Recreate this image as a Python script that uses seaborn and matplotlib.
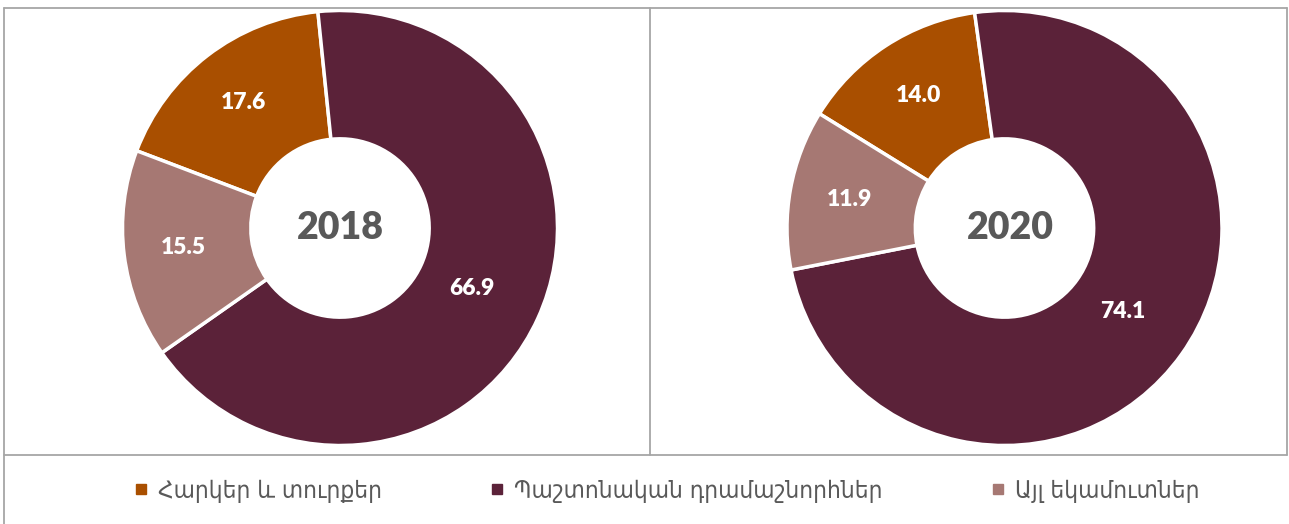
import numpy as np
import matplotlib
matplotlib.use("Agg")
import matplotlib.pyplot as plt
from matplotlib.lines import Line2D
import seaborn as sns

# ---- data ----
categories = ["Հարկեր և տուրքեր", "Պաշտոնական դրամաշնորհներ", "Այլ եկամուտներ"]
years = ["2018", "2020"]
values_2018 = [17.6, 66.9, 15.5]
values_2020 = [14.0, 74.1, 11.9]
label_text_2018 = ["17.6", "66.9", "15.5"]
label_text_2020 = ["14.0", "74.1", "11.9"]

# ---- style ----
sns.set_theme(style="white")
plt.rcParams["font.family"] = ["Lato", "DejaVu Sans"]
colors = ["#A94F00", "#5B2239", "#A67873"]
start_angles = [159.2, 148.3]
label_radius = [0.725, 0.665, 0.725]
year_dx = [0.0, 0.025]
GRID = "#A6A6A6"
TEXT = "#595959"

W, H = 1289, 524
fig = plt.figure(figsize=(W / 100, H / 100), dpi=100)

centers = [(340, 228), (1004.5, 228)]
R = 217.5

for (cx, cy), year, vals, labs, sa, dx in zip(
    centers, years, [values_2018, values_2020], [label_text_2018, label_text_2020],
    start_angles, year_dx
):
    ax = fig.add_axes([(cx - R) / W, (H - cy - R) / H, 2 * R / W, 2 * R / H])
    wedges, _ = ax.pie(
        vals,
        colors=colors,
        startangle=sa,
        counterclock=False,
        radius=1.0,
        wedgeprops=dict(width=0.59, edgecolor="white", linewidth=2.5),
    )
    ax.set_xlim(-1, 1)
    ax.set_ylim(-1, 1)
    ax.set_aspect("equal")
    ax.axis("off")
    for w, txt, rr in zip(wedges, labs, label_radius):
        mid = np.deg2rad((w.theta1 + w.theta2) / 2)
        ax.text(rr * np.cos(mid), rr * np.sin(mid), txt, ha="center", va="center",
                color="white", fontsize=16.5, fontweight="heavy")
    ax.text(dx, 0.0, year, ha="center", va="center", color=TEXT,
            fontsize=27, fontweight="heavy")

# ---- frame lines (figure coords) ----
def fline(x0, y0, x1, y1):
    fig.add_artist(Line2D([x0 / W, x1 / W], [1 - y0 / H, 1 - y1 / H],
                          color=GRID, linewidth=1.3, transform=fig.transFigure))

fline(4, 8, 1287, 8)
fline(4, 8, 4, 524)
fline(1287, 8, 1287, 455)
fline(4, 455, 1287, 455)
fline(650, 8, 650, 455)

# ---- legend ----
handles = [Line2D([0], [0], marker="s", linestyle="none", markersize=6.5,
                  markerfacecolor=c, markeredgecolor=c) for c in colors]
leg = fig.legend(handles, categories, loc="center", bbox_to_anchor=(0.517, 0.063),
                 ncol=3, frameon=False, handlelength=0.6,
                 prop=dict(family="DejaVu Sans", size=17.5, stretch="condensed"),
                 handletextpad=0.4, columnspacing=4.45, borderaxespad=0)
for t in leg.get_texts():
    t.set_color(TEXT)

fig.savefig("out.png", dpi=100)
